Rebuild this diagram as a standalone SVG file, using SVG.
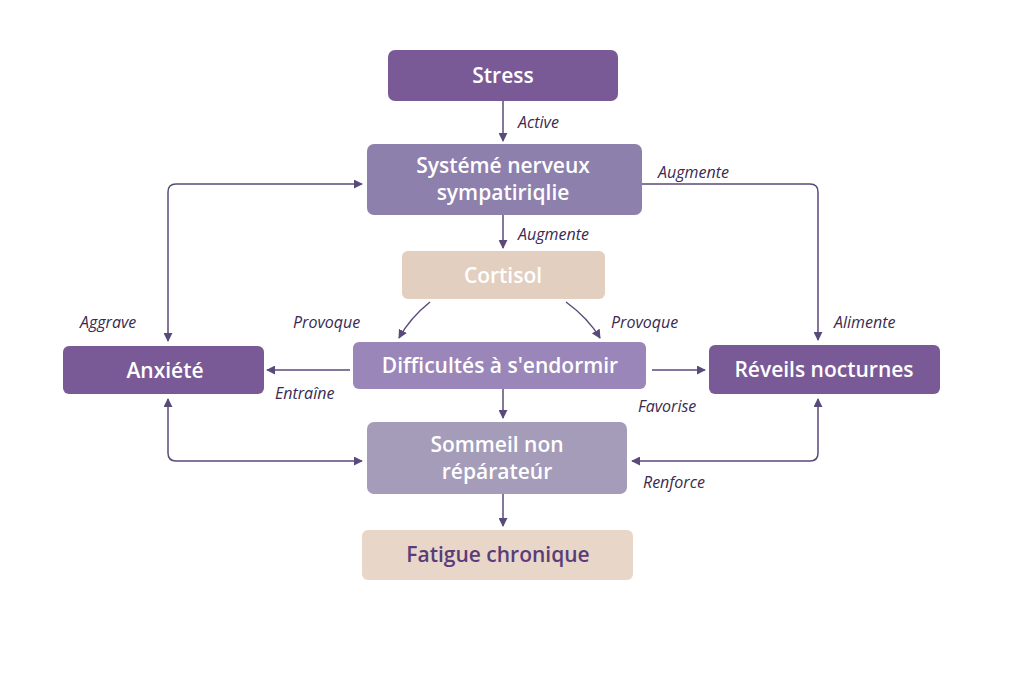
<svg xmlns="http://www.w3.org/2000/svg" width="1024" height="683" viewBox="0 0 1024 683">
<defs>
<marker id="ah" viewBox="0 0 10 10" refX="9" refY="5" markerWidth="9" markerHeight="9" markerUnits="userSpaceOnUse" orient="auto-start-reverse"><path d="M0,0 L10,5 L0,10 z" fill="#5a4a7a"/></marker>
<style>
.n{font-family:"Open Sans","Liberation Sans",sans-serif;font-weight:600;font-size:21px;fill:#fff;text-anchor:middle}
.l{font-family:"Open Sans","Liberation Sans",sans-serif;font-style:italic;font-size:16px;fill:#3a2a50}
.c{fill:none;stroke:#5a4a7a;stroke-width:1.5;marker-end:url(#ah)}
</style>
</defs>
<rect width="1024" height="683" fill="#fff"/>
<g id="connectors">
<path class="c" d="M503,101 V141"/>
<path class="c" d="M503,215 V248"/>
<path class="c" d="M642,184 H810 Q818,184 818,192 V340"/>
<path class="c" marker-start="url(#ah)" d="M168,341 V192 Q168,184 176,184 H362"/>
<path class="c" d="M430,302 Q410,318 399,338"/>
<path class="c" d="M566,302 Q588,318 600,338"/>
<path class="c" d="M350,370 H267"/>
<path class="c" d="M652,370 H705"/>
<path class="c" d="M503,389 V418"/>
<path class="c" marker-start="url(#ah)" d="M168,399 V453 Q168,461 176,461 H362"/>
<path class="c" marker-start="url(#ah)" d="M818,399 V453 Q818,461 810,461 H632"/>
<path class="c" d="M503,494 V526"/>
<text class="l" x="518" y="128">Active</text>
<text class="l" x="518" y="240">Augmente</text>
<text class="l" x="658" y="178">Augmente</text>
<text class="l" x="834" y="328">Alimente</text>
<text class="l" x="80" y="328">Aggrave</text>
<text class="l" x="293" y="328">Provoque</text>
<text class="l" x="611" y="328">Provoque</text>
<text class="l" x="275" y="399">Entraîne</text>
<text class="l" x="638" y="412">Favorise</text>
<text class="l" x="643" y="488">Renforce</text>
</g>
<g id="stress"><rect x="388" y="50" width="230" height="51" rx="7" fill="#7a5a96"/><text class="n" x="503" y="83">Stress</text></g>
<g id="sns"><rect x="367" y="144" width="275" height="71" rx="7" fill="#8e80ad"/><text class="n" x="503" y="173">Systémé nerveux</text><text class="n" x="503" y="200">sympatiriqlie</text></g>
<g id="cortisol"><rect x="402" y="251" width="203" height="48" rx="6" fill="#e2cfc0"/><text class="n" x="503" y="283">Cortisol</text></g>
<g id="diff"><rect x="353" y="342" width="293" height="47" rx="6" fill="#9a86b8"/><text class="n" x="500" y="373">Difficultés à s'endormir</text></g>
<g id="anx"><rect x="63" y="346" width="201" height="48" rx="6" fill="#7a5a96"/><text class="n" x="165" y="378">Anxiété</text></g>
<g id="rev"><rect x="709" y="345" width="231" height="49" rx="6" fill="#7a5a96"/><text class="n" x="824" y="377">Réveils nocturnes</text></g>
<g id="sommeil"><rect x="367" y="422" width="260" height="72" rx="7" fill="#a49cb9"/><text class="n" x="497" y="452">Sommeil non</text><text class="n" x="497" y="479">répárateúr</text></g>
<g id="fatigue"><rect x="362" y="530" width="271" height="50" rx="6" fill="#e8d6c8"/><text class="n" x="498" y="562" style="fill:#5a3d78">Fatigue chronique</text></g>
</svg>
